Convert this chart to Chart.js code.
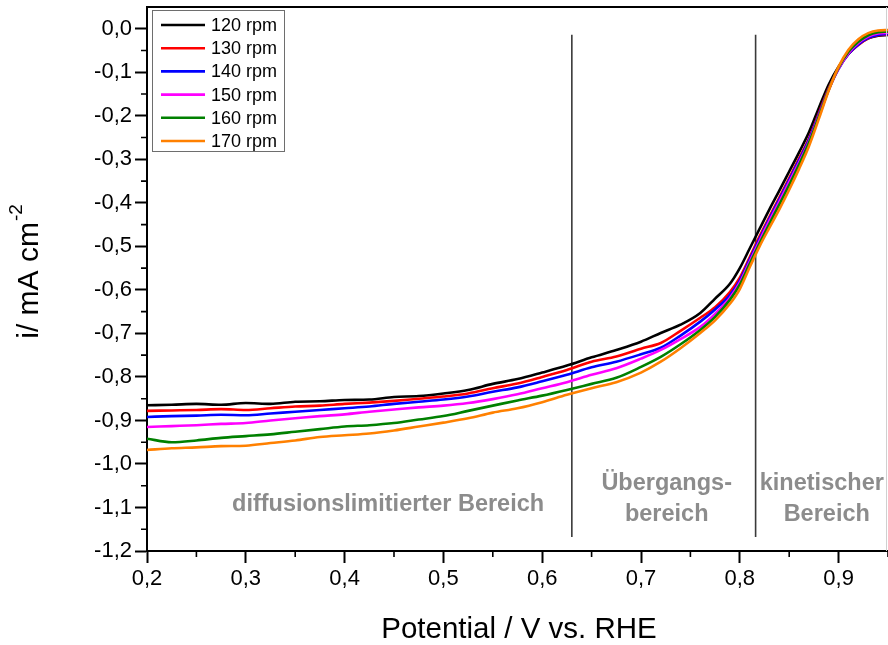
<!doctype html>
<html lang="de">
  <head>
    <meta charset="UTF-8" />
    <title>RDE Messung</title>
    <script src="https://cdn.jsdelivr.net/npm/chart.js@4.4.1/dist/chart.umd.min.js"></script>
    <style>
      body {
        margin: 0;
        background: #fff;
        font-family: "Liberation Sans", Arial, sans-serif;
      }
      #wrap {
        width: 888px;
        height: 645px;
        position: relative;
      }
    </style>
  </head>
  <body>
    <div id="wrap"><canvas id="rde"></canvas></div>
    <script>
      // potential axis (V vs. RHE), shared by all curves
      const potential = [
        0.2, 0.225, 0.25, 0.275, 0.3, 0.325, 0.35, 0.375, 0.4, 0.425, 0.45,
        0.475, 0.5, 0.525, 0.55, 0.575, 0.6, 0.625, 0.65, 0.675, 0.7, 0.72,
        0.74, 0.76, 0.775, 0.79, 0.8, 0.81, 0.82, 0.83, 0.84, 0.85, 0.86, 0.87,
        0.88, 0.89, 0.9, 0.91, 0.92, 0.93, 0.94, 0.95,
      ];

      // current density i / mA cm^-2
      const i120 = [
        -0.865, -0.864, -0.862, -0.864, -0.86, -0.862, -0.857, -0.856, -0.853,
        -0.852, -0.846, -0.844, -0.838, -0.83, -0.816, -0.805, -0.79, -0.774,
        -0.755, -0.738, -0.719, -0.699, -0.68, -0.653, -0.62, -0.586, -0.55,
        -0.505, -0.46, -0.415, -0.372, -0.328, -0.284, -0.238, -0.182, -0.128,
        -0.087, -0.057, -0.036, -0.022, -0.016, -0.014,
      ];
      const i130 = [
        -0.878, -0.877, -0.876, -0.874, -0.876, -0.872, -0.868, -0.866, -0.862,
        -0.859, -0.855, -0.85, -0.845, -0.838, -0.826, -0.815, -0.8, -0.784,
        -0.765, -0.753, -0.735, -0.722, -0.694, -0.664, -0.64, -0.605, -0.572,
        -0.525, -0.477, -0.432, -0.388, -0.343, -0.298, -0.252, -0.194, -0.137,
        -0.091, -0.058, -0.037, -0.022, -0.015, -0.013,
      ];
      const i140 = [
        -0.892, -0.89, -0.889, -0.887, -0.888, -0.884, -0.88, -0.876, -0.872,
        -0.868, -0.862, -0.857, -0.852, -0.845, -0.834, -0.824, -0.81, -0.795,
        -0.778, -0.765, -0.748, -0.733, -0.705, -0.673, -0.645, -0.612, -0.578,
        -0.53, -0.482, -0.436, -0.392, -0.347, -0.302, -0.255, -0.197, -0.139,
        -0.092, -0.058, -0.036, -0.021, -0.014, -0.012,
      ];
      const i150 = [
        -0.915, -0.913, -0.911, -0.908, -0.906, -0.9, -0.895, -0.89, -0.886,
        -0.88, -0.875, -0.87, -0.866, -0.86, -0.851, -0.84, -0.826, -0.812,
        -0.795, -0.78, -0.758, -0.738, -0.713, -0.685, -0.655, -0.618, -0.583,
        -0.535, -0.487, -0.441, -0.397, -0.352, -0.307, -0.259, -0.2, -0.14,
        -0.091, -0.056, -0.033, -0.018, -0.011, -0.009,
      ];
      const i160 = [
        -0.942, -0.95, -0.946, -0.94, -0.936, -0.932, -0.926, -0.92, -0.914,
        -0.911, -0.906, -0.898, -0.89, -0.878, -0.866, -0.854, -0.843, -0.83,
        -0.816, -0.802, -0.777, -0.754, -0.725, -0.692, -0.662, -0.623, -0.588,
        -0.54, -0.493, -0.448, -0.404, -0.359, -0.312, -0.262, -0.202, -0.14,
        -0.089, -0.053, -0.03, -0.015, -0.008, -0.006,
      ];
      const i170 = [
        -0.968, -0.964, -0.962, -0.959, -0.958, -0.952, -0.946, -0.938, -0.934,
        -0.93, -0.923, -0.914, -0.905, -0.895, -0.882, -0.872, -0.858, -0.841,
        -0.826, -0.812, -0.79, -0.765, -0.734, -0.699, -0.67, -0.632, -0.598,
        -0.548, -0.5, -0.457, -0.415, -0.37, -0.322, -0.27, -0.207, -0.142,
        -0.087, -0.048, -0.024, -0.01, -0.004, -0.003,
      ];

      const rpmLabels = ["120 rpm", "130 rpm", "140 rpm", "150 rpm", "160 rpm", "170 rpm"];
      const currents = [i120, i130, i140, i150, i160, i170];
      const lineColors = ["#000000", "#ff0000", "#0000ff", "#ff00ff", "#008000", "#ff8000"];

      const xTickValues = [0.2, 0.3, 0.4, 0.5, 0.6, 0.7, 0.8, 0.9];
      const xTickLabels = ["0,2", "0,3", "0,4", "0,5", "0,6", "0,7", "0,8", "0,9"];
      const yTickValues = [-1.2, -1.1, -1.0, -0.9, -0.8, -0.7, -0.6, -0.5, -0.4, -0.3, -0.2, -0.1, 0.0];
      const yTickLabels = ["-1,2", "-1,1", "-1,0", "-0,9", "-0,8", "-0,7", "-0,6", "-0,5", "-0,4", "-0,3", "-0,2", "-0,1", "0,0"];

      // region boundaries (V) and the region names
      const boundaries = [0.63, 0.816];
      const boundaryTop = -0.014;
      const boundaryBottom = -1.168;
      const regionNames = [["diffusionslimitierter Bereich"], ["Übergangs-", "bereich"], ["kinetischer", "Bereich"]];

      const FONT = '"Liberation Sans", Arial, sans-serif';

      const datasets = currents.map((ys, k) => ({
        label: rpmLabels[k],
        data: potential.map((x, j) => ({ x: x, y: ys[j] })),
        borderColor: lineColors[k],
        borderWidth: 2.6,
        pointRadius: 0,
        cubicInterpolationMode: "monotone",
        order: currents.length - k,
      }));
      boundaries.forEach((b) => {
        datasets.push({
          label: "",
          data: [
            { x: b, y: boundaryTop },
            { x: b, y: boundaryBottom },
          ],
          borderColor: "#3a3a3a",
          borderWidth: 1.6,
          pointRadius: 0,
          order: 10,
        });
      });

      // minor ticks, frame, titles, region names and the boxed legend
      const decorations = {
        id: "decorations",
        afterDraw(chart) {
          const ctx = chart.ctx;
          const xs = chart.scales.x;
          const ys = chart.scales.y;
          const a = chart.chartArea;
          ctx.save();

          // minor ticks
          ctx.strokeStyle = "#000";
          ctx.lineWidth = 1.6;
          ctx.beginPath();
          for (let k = 0; k < xTickValues.length; k++) {
            const px = xs.getPixelForValue(xTickValues[k] + 0.05);
            ctx.moveTo(px, a.bottom);
            ctx.lineTo(px, a.bottom + 6);
          }
          for (let k = 0; k < yTickValues.length - 1; k++) {
            const py = ys.getPixelForValue(yTickValues[k] + 0.05);
            ctx.moveTo(a.left, py);
            ctx.lineTo(a.left - 6, py);
          }
          ctx.stroke();

          // top frame and faint right edge
          ctx.lineWidth = 2;
          ctx.beginPath();
          ctx.moveTo(a.left - 1, a.top);
          ctx.lineTo(a.right, a.top);
          ctx.stroke();
          ctx.strokeStyle = "#d0d0d0";
          ctx.lineWidth = 1;
          ctx.beginPath();
          ctx.moveTo(a.right - 1.5, a.top);
          ctx.lineTo(a.right - 1.5, a.bottom);
          ctx.stroke();

          // region names
          ctx.fillStyle = "#8c8c8c";
          ctx.font = "bold 23.5px " + FONT;
          ctx.textAlign = "center";
          ctx.textBaseline = "middle";
          const spots = [
            [[0.444, -1.094]],
            [[0.726, -1.044], [0.726, -1.117]],
            [[0.883, -1.044], [0.888, -1.117]],
          ];
          regionNames.forEach((lines, r) => {
            lines.forEach((t, l) => {
              const p = spots[r][l];
              ctx.fillText(t, xs.getPixelForValue(p[0]), ys.getPixelForValue(p[1]));
            });
          });

          // axis titles
          ctx.fillStyle = "#000";
          ctx.font = "29.5px " + FONT;
          ctx.fillText("Potential / V vs. RHE", 519, 630);

          ctx.translate(30, 272);
          ctx.rotate(-Math.PI / 2);
          const main = "i/ mA cm";
          const sup = "-2";
          ctx.font = "30px " + FONT;
          const wm = ctx.measureText(main).width;
          ctx.font = "19px " + FONT;
          const ws = ctx.measureText(sup).width;
          const x0 = -(wm + ws) / 2;
          ctx.textAlign = "left";
          ctx.font = "30px " + FONT;
          ctx.fillText(main, x0, 0);
          ctx.font = "19px " + FONT;
          ctx.fillText(sup, x0 + wm + 1, -13);
          ctx.setTransform(1, 0, 0, 1, 0, 0);

          // legend box
          const bx = a.left + 5;
          const by = 10;
          const bw = 132;
          const bh = 141;
          ctx.fillStyle = "#fff";
          ctx.fillRect(bx, by, bw, bh);
          ctx.strokeStyle = "#6e6e6e";
          ctx.lineWidth = 1;
          ctx.strokeRect(bx + 0.5, by + 0.5, bw, bh);
          ctx.font = "18px " + FONT;
          ctx.textAlign = "left";
          ctx.textBaseline = "middle";
          rpmLabels.forEach((t, k) => {
            const ry = by + 15 + k * 23.2;
            ctx.strokeStyle = lineColors[k];
            ctx.lineWidth = 2.6;
            ctx.beginPath();
            ctx.moveTo(bx + 9, ry);
            ctx.lineTo(bx + 53, ry);
            ctx.stroke();
            ctx.fillStyle = "#000";
            ctx.fillText(t, bx + 59, ry + 1);
          });
          ctx.restore();
        },
      };

      new Chart(document.getElementById("rde"), {
        type: "line",
        data: { datasets: datasets },
        options: {
          responsive: true,
          maintainAspectRatio: false,
          animation: false,
          layout: { padding: { top: 7, right: 0, left: 0, bottom: 0 } },
          plugins: {
            legend: { display: false },
            tooltip: { enabled: false },
          },
          scales: {
            x: {
              type: "linear",
              min: 0.2,
              max: 0.95,
              afterBuildTicks: (s) => {
                s.ticks = xTickValues.map((v) => ({ value: v }));
              },
              afterFit: (s) => {
                s.height = 94;
                s.paddingLeft = 0;
                s.paddingRight = 0;
              },
              ticks: {
                callback: (v, i) => xTickLabels[i],
                color: "#000",
                font: { family: FONT, size: 22 },
                padding: 3,
                maxRotation: 0,
                autoSkip: false,
              },
              grid: {
                drawOnChartArea: false,
                tickLength: 12,
                tickWidth: 2,
                tickColor: "#000",
              },
              border: { display: true, color: "#000", width: 2 },
            },
            y: {
              type: "linear",
              min: -1.2,
              max: 0.05,
              afterBuildTicks: (s) => {
                s.ticks = yTickValues.map((v) => ({ value: v }));
              },
              afterFit: (s) => {
                s.width = 147;
                s.paddingTop = 0;
                s.paddingBottom = 0;
              },
              ticks: {
                callback: (v, i) => yTickLabels[i],
                color: "#000",
                font: { family: FONT, size: 22 },
                padding: 3,
                autoSkip: false,
              },
              grid: {
                drawOnChartArea: false,
                tickLength: 12,
                tickWidth: 2,
                tickColor: "#000",
              },
              border: { display: true, color: "#000", width: 2 },
            },
          },
        },
        plugins: [decorations],
      });
    </script>
  </body>
</html>
